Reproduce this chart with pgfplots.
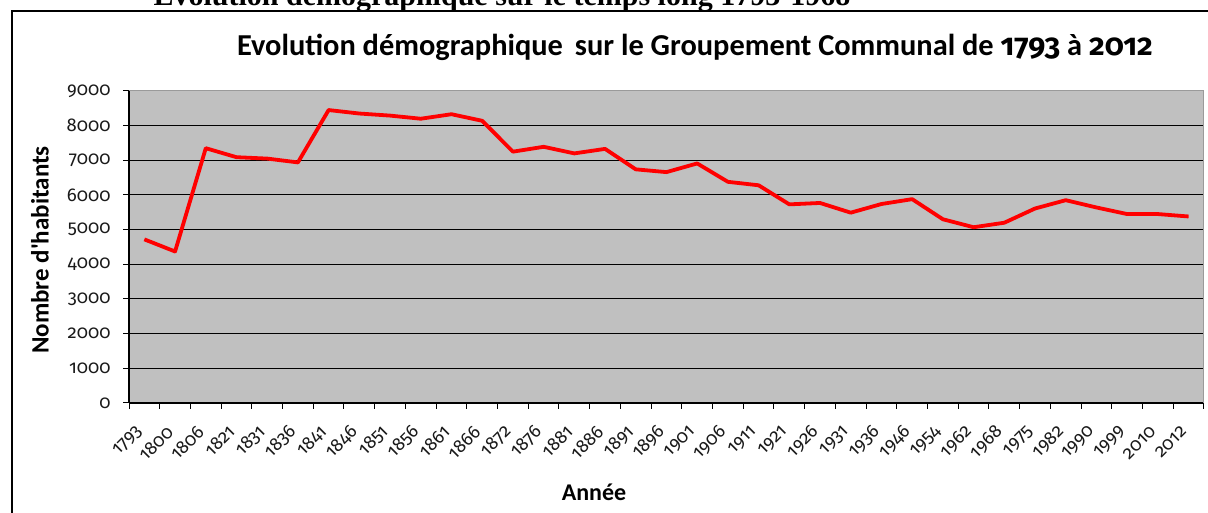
\documentclass[border=0pt]{standalone}
\usepackage{fontspec}
\setmainfont{Carlito}
\newfontfamily\numfont{Fira Sans}[Numbers=OldStyle]
\newfontfamily\serifb{Liberation Serif}
\usepackage{pgfplots}
\pgfplotsset{compat=1.18}
\definecolor{plotgrey}{HTML}{C0C0C0}
\definecolor{edgegrey}{HTML}{9A9A9A}
\definecolor{ticktext}{HTML}{1A1A1A}

\pgfplotstableread{
idx pop
0 4720
1 4370
2 7350
3 7090
4 7050
5 6940
6 8450
7 8350
8 8290
9 8200
10 8330
11 8140
12 7250
13 7390
14 7200
15 7330
16 6740
17 6660
18 6910
19 6380
20 6280
21 5730
22 5770
23 5490
24 5740
25 5880
26 5300
27 5070
28 5200
29 5610
30 5850
31 5640
32 5450
33 5450
34 5380
}\popdata

\begin{document}
\begin{tikzpicture}
\begin{axis}[at={(129pt,110pt)}, anchor=south west, scale only axis,
  width=1075pt, height=312pt,
  xmin=-0.5, xmax=34.5, ymin=0, ymax=9000,
  axis lines=left, axis line style={-, black, line width=1.2pt},
  axis background/.style={fill=plotgrey},
  ytick={0,1000,...,9000}, ymajorgrids, grid style={black, line width=1pt},
  xtick={0,...,34},
  xticklabels={1793,1800,1806,1821,1831,1836,1841,1846,1851,1856,1861,1866,1872,1876,1881,1886,1891,1896,1901,1906,1911,1921,1926,1931,1936,1946,1954,1962,1968,1975,1982,1990,1999,2010,2012},
  minor xtick={-0.5,0.5,...,34.5},
  major x tick style={draw=none},
  minor x tick style={black, line width=1pt},
  y tick style={black, line width=1pt},
  tick align=outside, major tick length=6pt, minor tick length=6pt,
  x tick label style={xshift=-4pt, yshift=-19pt, rotate=45, anchor=east, font=\fontsize{18.5}{21}\numfont, text=ticktext, inner sep=1pt},
  y tick label style={font=\fontsize{18.5}{21}\numfont, text=ticktext, xshift=-9pt},
  yticklabel style={/pgf/number format/1000 sep={}, /pgf/number format/assume math mode=true},
  clip=false]
\addplot[red, line width=3.8pt, line join=round] table[x=idx, y=pop] {\popdata};
\draw[edgegrey, line width=1pt] (rel axis cs:0,1) -- (rel axis cs:1,1) -- (rel axis cs:1,0);
\end{axis}
\node[font=\fontsize{30.4}{33}\selectfont\bfseries] at (695pt,466pt) {Evolution démographique\, sur le Groupement Communal de {\numfont\bfseries 1793} à {\numfont\bfseries 2012}};
\node[font=\fontsize{25}{28}\selectfont\bfseries, rotate=90] at (40pt,263pt) {Nombre d\textquotesingle habitants};
\node[font=\fontsize{24}{28}\selectfont\bfseries] at (594pt,21pt) {Année};
\node[font=\fontsize{30}{32}\selectfont\serifb\bfseries, anchor=base west] at (150pt,507pt) {Evolution démographique sur le temps long 1793-1968};
\draw[black, line width=2pt] (12pt,-10pt) -- (12pt,502pt) -- (1230pt,502pt);
\pgfresetboundingbox
\path[use as bounding box] (0pt,0pt) rectangle (1208pt,513pt);
\end{tikzpicture}
\end{document}
